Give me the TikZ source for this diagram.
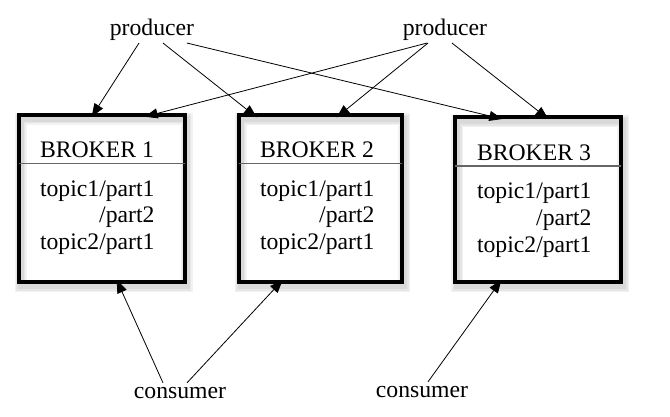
\documentclass[tikz,border=0pt]{standalone}
\usepackage{fontspec}
\setmainfont{Liberation Serif}
\usetikzlibrary{arrows.meta,calc}
\begin{document}
\begin{tikzpicture}[x=1pt,y=-1pt,
  txt/.style={font=\fontsize{23.7}{28}\selectfont, inner sep=0pt, outer sep=0pt},
  broker/.style={inner sep=0pt, outer sep=0pt, fill=white, anchor=north west},
  frame/.style={draw, line width=3.8pt},
  link/.style={line width=0.8pt, -{Triangle[length=13pt,width=10pt]}},
  divider/.style={draw=black!60, line width=1.3pt},
  boxshadow/.style={draw=black, line width=#1, opacity=0.05}
]
\useasboundingbox (0,0) rectangle (670,416);

% brokers
\node[broker, minimum width=166pt, minimum height=167.3pt] (b1) at (18.7,114.7) {};
\node[broker, minimum width=163.3pt, minimum height=166.7pt] (b2) at (238.7,115.3) {};
\node[broker, minimum width=166pt, minimum height=165pt] (b3) at (455.3,117) {};

\foreach \b in {b1,b2,b3}{
  \foreach \w in {12pt,9pt,6pt}{
    \draw[boxshadow=\w] ([shift={(2,4)}]\b.north west) rectangle ([shift={(2,4)}]\b.south east);
  }
  \draw[frame] (\b.north west) rectangle (\b.south east);
}

% dividers
\draw[divider] (b1.west |- 0,163.3) -- (b1.east |- 0,163.3);
\draw[divider] (b2.west |- 0,163.3) -- (b2.east |- 0,163.3);
\draw[divider] (b3.west |- 0,166) -- (b3.east |- 0,166);

% broker texts
\node[txt, anchor=base west] (h1) at (40,157) {BROKER 1};
\node[txt, anchor=base west] (t11) at (40,196) {topic1/part1};
\node[txt, anchor=base east] (t12) at (t11.base east |- 0,222.5) {/part2};
\node[txt, anchor=base west] (t13) at (40,249) {topic2/part1};

\node[txt, anchor=base west] (h2) at (260,157) {BROKER 2};
\node[txt, anchor=base west] (t21) at (260,196) {topic1/part1};
\node[txt, anchor=base east] (t22) at (t21.base east |- 0,222.5) {/part2};
\node[txt, anchor=base west] (t23) at (260,249) {topic2/part1};

\node[txt, anchor=base west] (h3) at (477,160) {BROKER 3};
\node[txt, anchor=base west] (t31) at (477,198) {topic1/part1};
\node[txt, anchor=base east] (t32) at (t31.base east |- 0,225) {/part2};
\node[txt, anchor=base west] (t33) at (477,252) {topic2/part1};

% producers and consumers
\node[txt, anchor=base] (p1) at (152,35) {producer};
\node[txt, anchor=base] (p2) at (445,35) {producer};
\node[txt, anchor=base] (c1) at (180,398) {consumer};
\node[txt, anchor=base] (c2) at (422,397) {consumer};

% producer links
\draw[link] ([xshift=-13pt,yshift=-3pt]p1.south) -- ([xshift=73pt,yshift=-2pt]b1.north west);
\draw[link] ([xshift=11pt,yshift=-3pt]p1.south) -- ([xshift=18pt,yshift=-2pt]b2.north west);
\draw[link] ([xshift=35pt,yshift=-3pt]p1.south) -- ([xshift=47pt,yshift=-2pt]b3.north west);
\draw[link] ([xshift=-18pt,yshift=-3pt]p2.south) -- ([xshift=126pt,yshift=-2pt]b1.north west);
\draw[link] ([xshift=-17pt,yshift=-3pt]p2.south) -- ([xshift=98pt,yshift=-2pt]b2.north west);
\draw[link] ([xshift=7pt,yshift=-3pt]p2.south) -- ([xshift=93pt,yshift=-2pt]b3.north west);

% consumer links
\draw[link] ([xshift=-17pt,yshift=4pt]c1.north) -- ([xshift=98pt,yshift=2pt]b1.south west);
\draw[link] ([xshift=7pt,yshift=4pt]c1.north) -- ([xshift=44pt,yshift=2pt]b2.south west);
\draw[link] ([xshift=6pt,yshift=4pt]c2.north) -- ([xshift=46pt,yshift=2pt]b3.south west);
\end{tikzpicture}
\end{document}
